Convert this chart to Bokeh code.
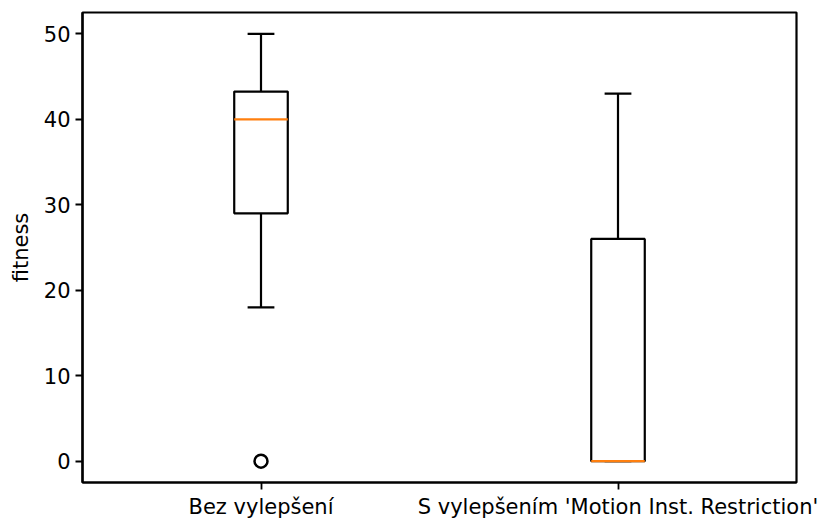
from bokeh.plotting import figure
from bokeh.models import Range1d, FixedTicker
from bokeh.embed import file_html
from bokeh.resources import INLINE

# Box-plot summary statistics per group
categories = ["Bez vylepšení", "S vylepšením 'Motion Inst. Restriction'"]
positions = [1, 2]
whisker_low = [18, 0]
q1 = [29, 0]
median = [40, 0]
q3 = [43.25, 26]
whisker_high = [50, 43]
outlier_pos = [1]
outlier_val = [0]
y_ticks = [0, 10, 20, 30, 40, 50]

BOX_W = 0.15
CAP_W = BOX_W / 2
FONT = "DejaVu Sans"
FS = "21px"
LW = 2.2

p = figure(width=819, height=521, output_backend="svg", toolbar_location=None,
           x_range=Range1d(0.5, 2.5), y_range=Range1d(-2.5, 52.5),
           min_border_left=82, min_border_right=23, min_border_top=12,
           min_border_bottom=36)
p.grid.visible = False
p.outline_line_color = "black"
p.outline_line_width = LW
p.background_fill_color = "white"
p.border_fill_color = "white"

# whiskers
p.segment(x0=positions, y0=q3, x1=positions, y1=whisker_high, line_color="black", line_width=LW)
p.segment(x0=positions, y0=whisker_low, x1=positions, y1=q1, line_color="black", line_width=LW)
# caps
p.segment(x0=[x - CAP_W / 2 for x in positions], y0=whisker_high,
          x1=[x + CAP_W / 2 for x in positions], y1=whisker_high, line_color="black", line_width=LW)
p.segment(x0=[x - CAP_W / 2 for x in positions], y0=whisker_low,
          x1=[x + CAP_W / 2 for x in positions], y1=whisker_low, line_color="black", line_width=LW)
# boxes
p.quad(left=[x - BOX_W / 2 for x in positions], right=[x + BOX_W / 2 for x in positions],
       bottom=q1, top=q3, fill_color=None, line_color="black", line_width=LW)
# medians
p.segment(x0=[x - BOX_W / 2 for x in positions], y0=median,
          x1=[x + BOX_W / 2 for x in positions], y1=median, line_color="#ff7f0e", line_width=LW)
# outliers
p.scatter(x=outlier_pos, y=outlier_val, marker="circle", size=13, fill_color=None,
          line_color="black", line_width=2.5)

for ax in (p.xaxis, p.yaxis):
    ax.axis_line_color = "black"
    ax.axis_line_width = LW
    ax.major_tick_line_width = 1.8
    ax.major_tick_out = 7
    ax.major_tick_in = 0
    ax.minor_tick_line_color = None
    ax.major_label_text_font = FONT
    ax.major_label_text_font_size = FS
    ax.major_label_text_color = "black"
    ax.major_label_standoff = 5

p.xaxis.ticker = FixedTicker(ticks=positions)
p.xaxis.major_label_overrides = {pos: cat for pos, cat in zip(positions, categories)}
p.yaxis.ticker = FixedTicker(ticks=y_ticks)
p.yaxis.axis_label = "fitness"
p.yaxis.axis_label_text_font = FONT
p.yaxis.axis_label_text_font_size = FS
p.yaxis.axis_label_text_font_style = "normal"
p.yaxis.axis_label_text_color = "black"
p.yaxis.axis_label_standoff = 8

open("out.html", "w").write(file_html(p, INLINE))
